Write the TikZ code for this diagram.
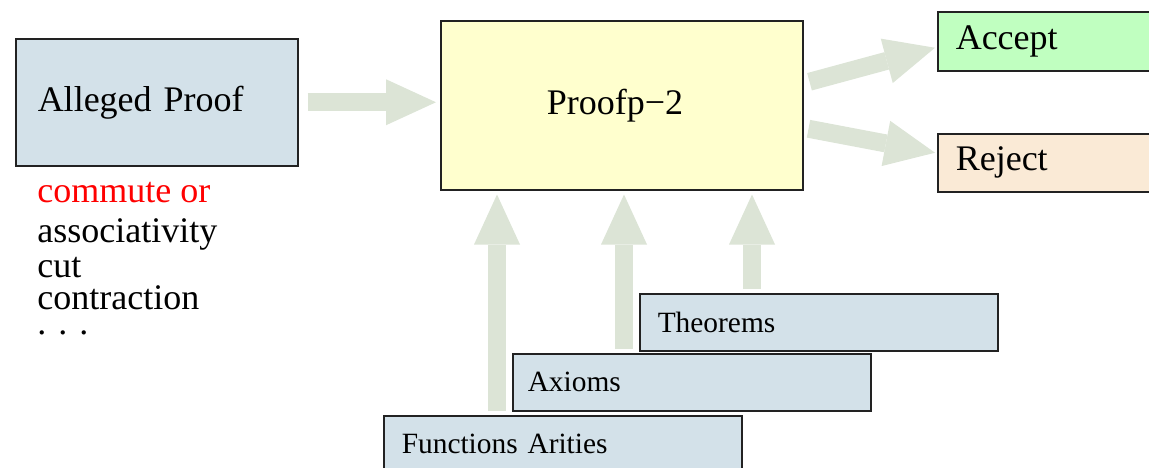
\documentclass[tikz,border=0pt]{standalone}
\usepackage{fontspec}
\setmainfont{Liberation Serif}
\usetikzlibrary{arrows.meta}
\definecolor{boxblue}{RGB}{211,225,233}
\definecolor{boxyellow}{RGB}{255,255,206}
\definecolor{boxgreen}{RGB}{192,255,192}
\definecolor{boxpeach}{RGB}{250,234,214}
\definecolor{fatcol}{RGB}{220,228,214}
\definecolor{edgecol}{RGB}{34,34,34}
\tikzset{
  box/.style={draw=edgecol, line width=0.75pt, anchor=north west, align=left,
    font=\fontsize{18}{21}\selectfont},
  smallbox/.style={box, font=\fontsize{14.7}{17}\selectfont,
    minimum width=179pt, minimum height=28.5pt, text width=160pt},
  fat/.style={draw=fatcol, line width=9pt,
    -{Triangle[length=25pt, width=23pt, line width=0pt]}},
  listtext/.style={anchor=base west, inner sep=0pt,
    text height=9pt, text depth=2pt,
    font=\fontsize{18}{21}\selectfont}
}
\begin{document}
\begin{tikzpicture}[x=0.5pt, y=-0.5pt]
  \useasboundingbox (0,0) rectangle (1149,467);

  % main boxes
  \node[box, fill=boxblue, minimum width=141pt, minimum height=63.5pt,
        inner xsep=11pt, text width=119pt] (ap) at (15,38) {Alleged Proof};
  \node[box, fill=boxyellow, minimum width=181pt, minimum height=84.5pt,
        inner xsep=53pt, text width=75pt] (pf) at (440,20) {Proofp−2};
  \node[box, fill=boxgreen, minimum width=112pt, minimum height=29.5pt,
        inner xsep=9pt, text width=94pt] (acc) at (937,11) {Accept};
  \node[box, fill=boxpeach, minimum width=112pt, minimum height=29pt,
        inner xsep=9pt, text width=94pt] (rej) at (937,133) {Reject};

  % stacked input boxes
  \node[smallbox, fill=boxblue, inner xsep=8.5pt, text width=161pt] (fa) at (383,415) {Functions Arities};
  \node[smallbox, fill=boxblue, inner xsep=7.5pt, text width=164pt] (ax) at (512,353) {Axioms};
  \node[smallbox, fill=boxblue, inner xsep=9pt, text width=161pt] (th) at (639,293) {Theorems};

  % rule names under the proof box
  \node[listtext, text=red] (l1) at (37,202) {commute or};
  \node[listtext] (l2) at (37,242) {associativity};
  \node[listtext] (l3) at (37,277) {cut};
  \node[listtext] (l4) at (37,309) {contraction};
  \node[listtext] (l5) at (37,334) {.\hspace{6pt}.\hspace{6pt}.};

  % fat arrows
  \draw[fat, shorten <=4.5pt, shorten >=2pt] (ap.east) -- (ap.east -| pf.west);
  \draw[fat] ([shift={(6,-23.5)}]pf.east) -- ([shift={(-2,6.5)}]acc.west);
  \draw[fat] ([shift={(5,23.5)}]pf.east) -- ([shift={(-2,-10)}]rej.west);

  \coordinate (u1) at ([xshift=57pt]fa.north west);
  \coordinate (u2) at ([xshift=56pt]ax.north west);
  \coordinate (u3) at ([xshift=56.5pt]th.north west);
  \draw[fat, shorten <=2pt, shorten >=2pt] (u1) -- (u1 |- pf.south);
  \draw[fat, shorten <=2pt, shorten >=2pt] (u2) -- (u2 |- pf.south);
  \draw[fat, shorten <=2pt, shorten >=2pt] (u3) -- (u3 |- pf.south);
\end{tikzpicture}
\end{document}
